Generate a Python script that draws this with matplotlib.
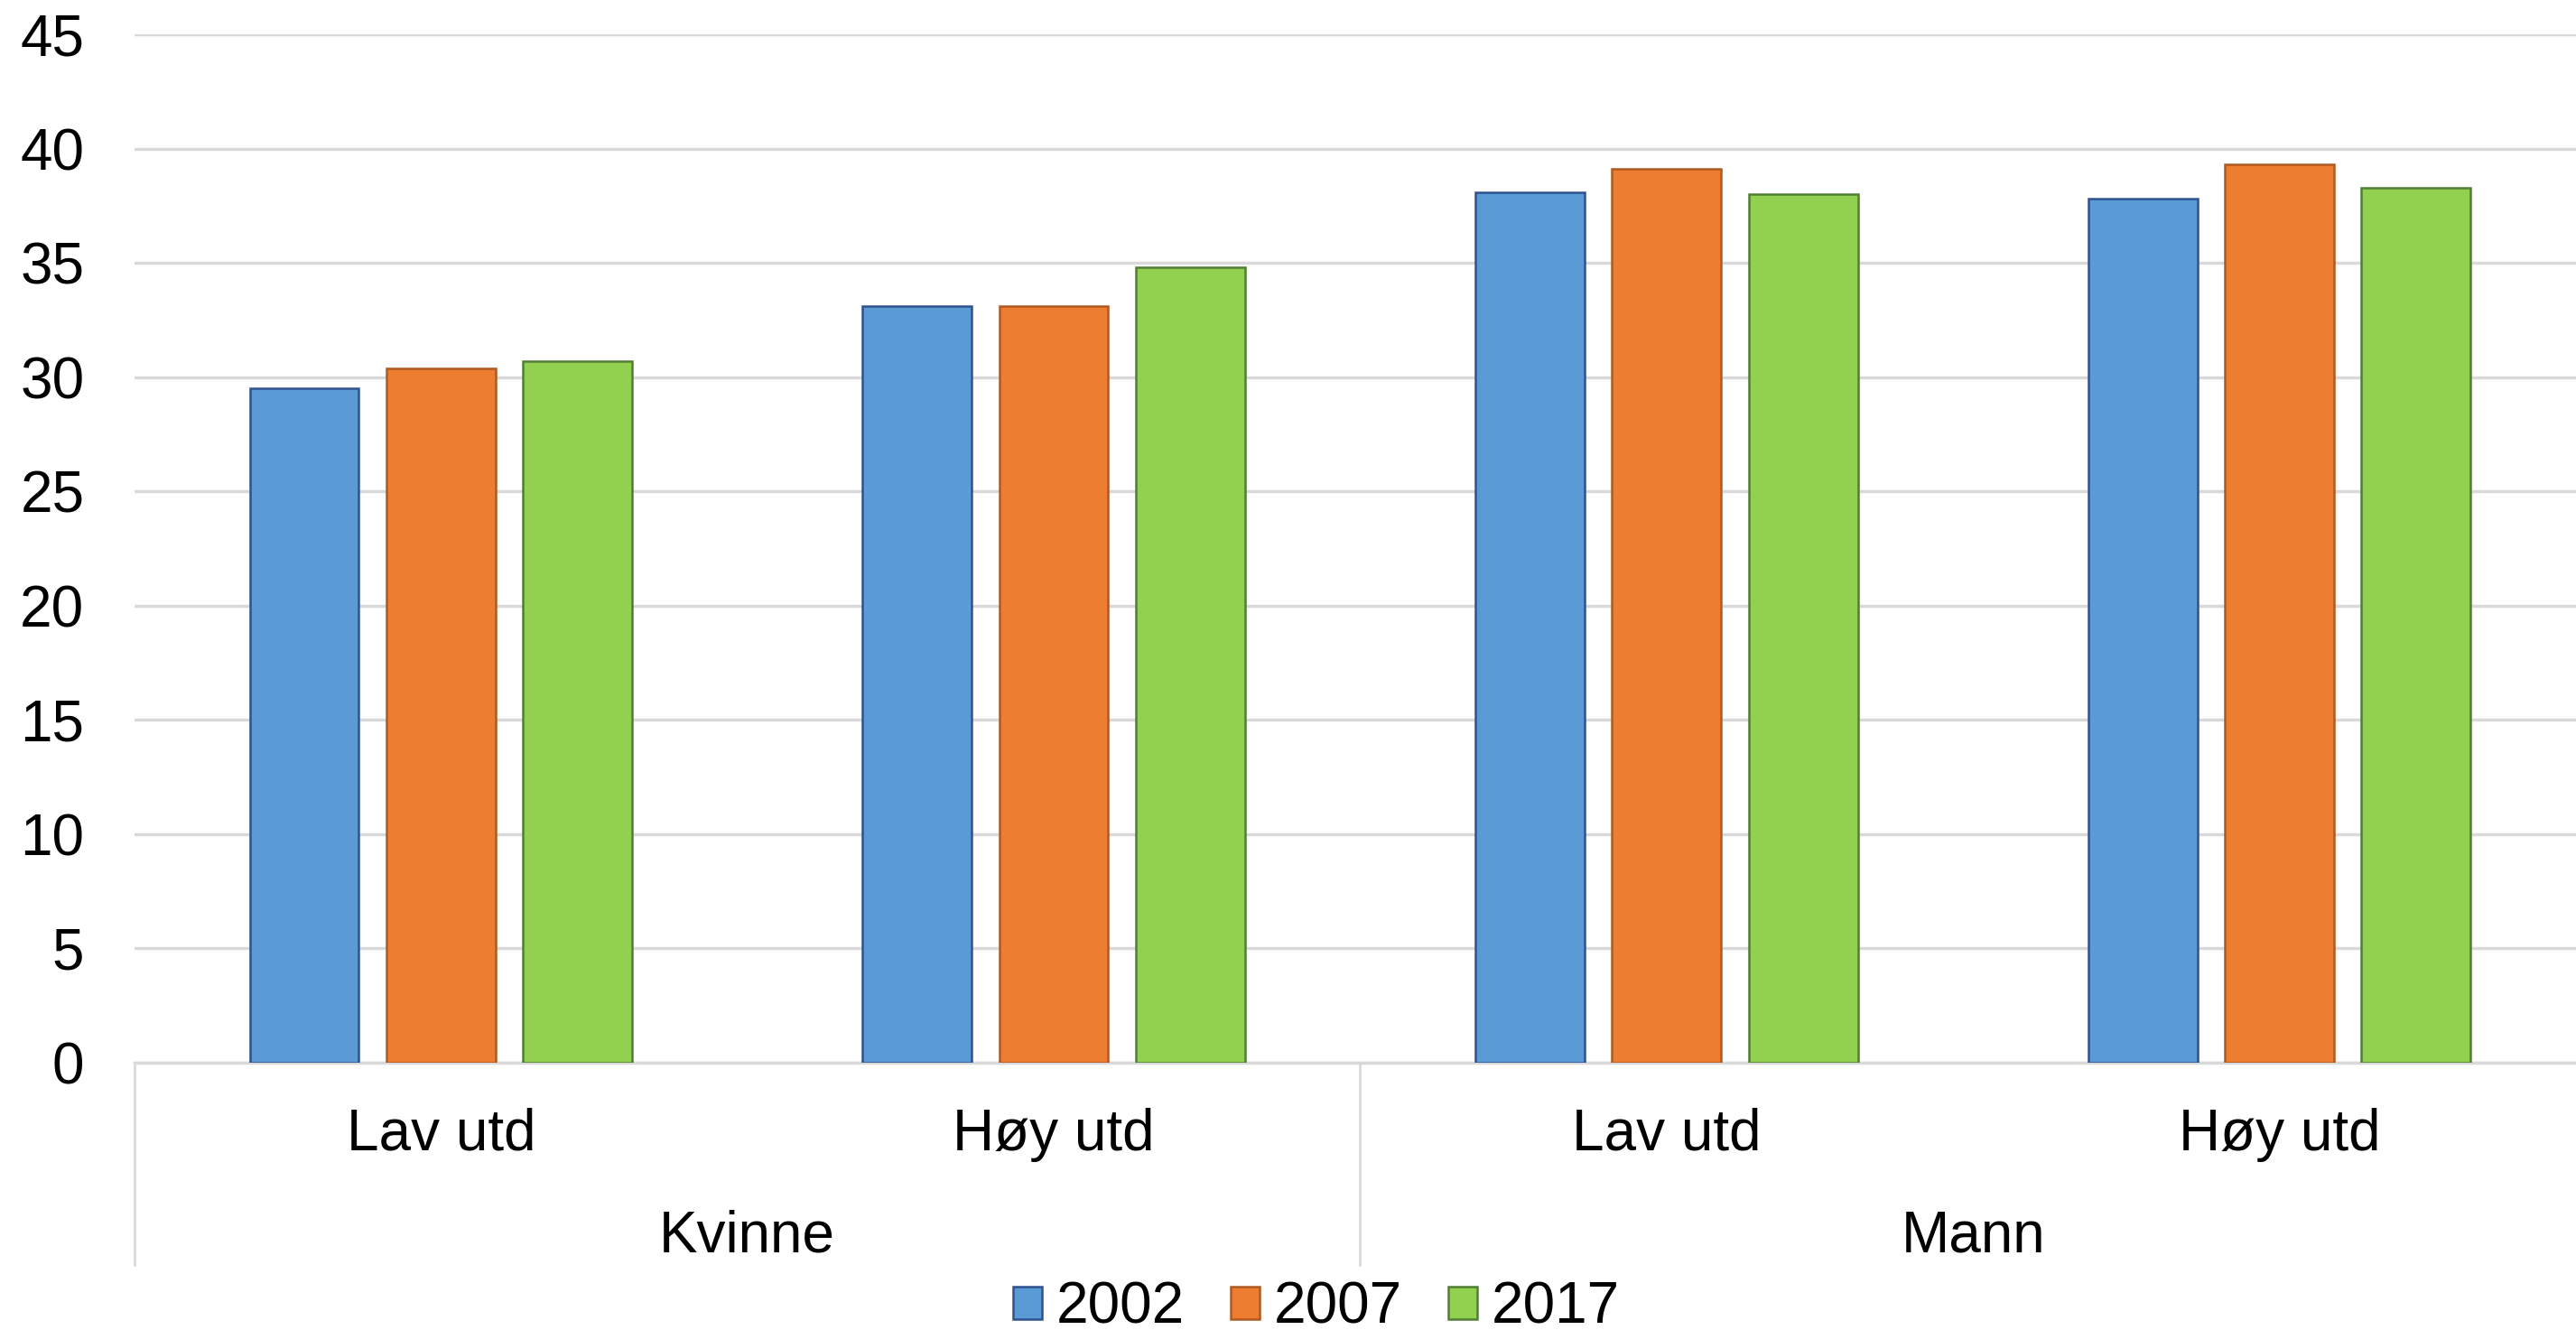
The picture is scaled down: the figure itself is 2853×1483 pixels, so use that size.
import numpy as np
import matplotlib
matplotlib.use("Agg")
import matplotlib.pyplot as plt
from matplotlib.transforms import blended_transform_factory

plt.rcParams["font.family"] = ["Liberation Sans", "DejaVu Sans"]

# data
groups = ["Kvinne", "Mann"]
levels = ["Lav utd", "Høy utd", "Lav utd", "Høy utd"]
years = ["2002", "2007", "2017"]
v2002 = [29.5, 33.1, 38.1, 37.8]
v2007 = [30.4, 33.1, 39.1, 39.3]
v2017 = [30.7, 34.8, 38.0, 38.3]
yticks = [0, 5, 10, 15, 20, 25, 30, 35, 40, 45]

fills = ["#5B9BD5", "#ED7D31", "#92D050"]
edges = ["#2F528F", "#AE5A21", "#507E32"]
GRID = "#D9D9D9"
FS = 46

fig = plt.figure(figsize=(28.53, 14.83), dpi=100)
ax = fig.add_axes([0.0522, 0.2063, 0.9516, 0.7681])

x = np.arange(len(levels))
width = 0.178
step = 0.223
for i, (vals, lab) in enumerate(zip([v2002, v2007, v2017], years)):
    ax.bar(x + (i - 1) * step, vals, width, color=fills[i], edgecolor=edges[i],
           linewidth=1.8, label=lab, zorder=3)

ax.set_xlim(-0.5, len(levels) - 0.5)
ax.set_ylim(0, 45)
ax.set_yticks(yticks)
ax.set_yticklabels([str(t) for t in yticks], fontsize=FS)
ax.tick_params(axis="y", length=0, pad=40)
ax.set_xticks([])
ax.yaxis.grid(True, color=GRID, linewidth=2.5, zorder=0)
ax.set_axisbelow(True)
for s in ["top", "right", "left"]:
    ax.spines[s].set_visible(False)
ax.spines["bottom"].set_color(GRID)
ax.spines["bottom"].set_linewidth(2.5)

# two-level category axis
tr = blended_transform_factory(ax.transData, ax.transAxes)
for xi, lab in zip(x, levels):
    ax.text(xi, -0.070, lab, transform=tr, ha="center", va="center", fontsize=FS)
for gi, g in enumerate(groups):
    ax.text(gi * 2 + 0.5, -0.169, g, transform=tr, ha="center", va="center", fontsize=FS)
for sx in [-0.5, 1.5, 3.5]:
    ax.plot([sx, sx], [0, -0.197], transform=tr, color=GRID, linewidth=2,
            clip_on=False)

ax.legend(loc="center", bbox_to_anchor=(0.511, 0.023), bbox_transform=fig.transFigure,
          ncol=3, frameon=False, fontsize=FS, handlelength=0.5, handleheight=0.5,
          handletextpad=0.25, columnspacing=0.8, borderpad=0)

fig.savefig("out.png", dpi=100)
